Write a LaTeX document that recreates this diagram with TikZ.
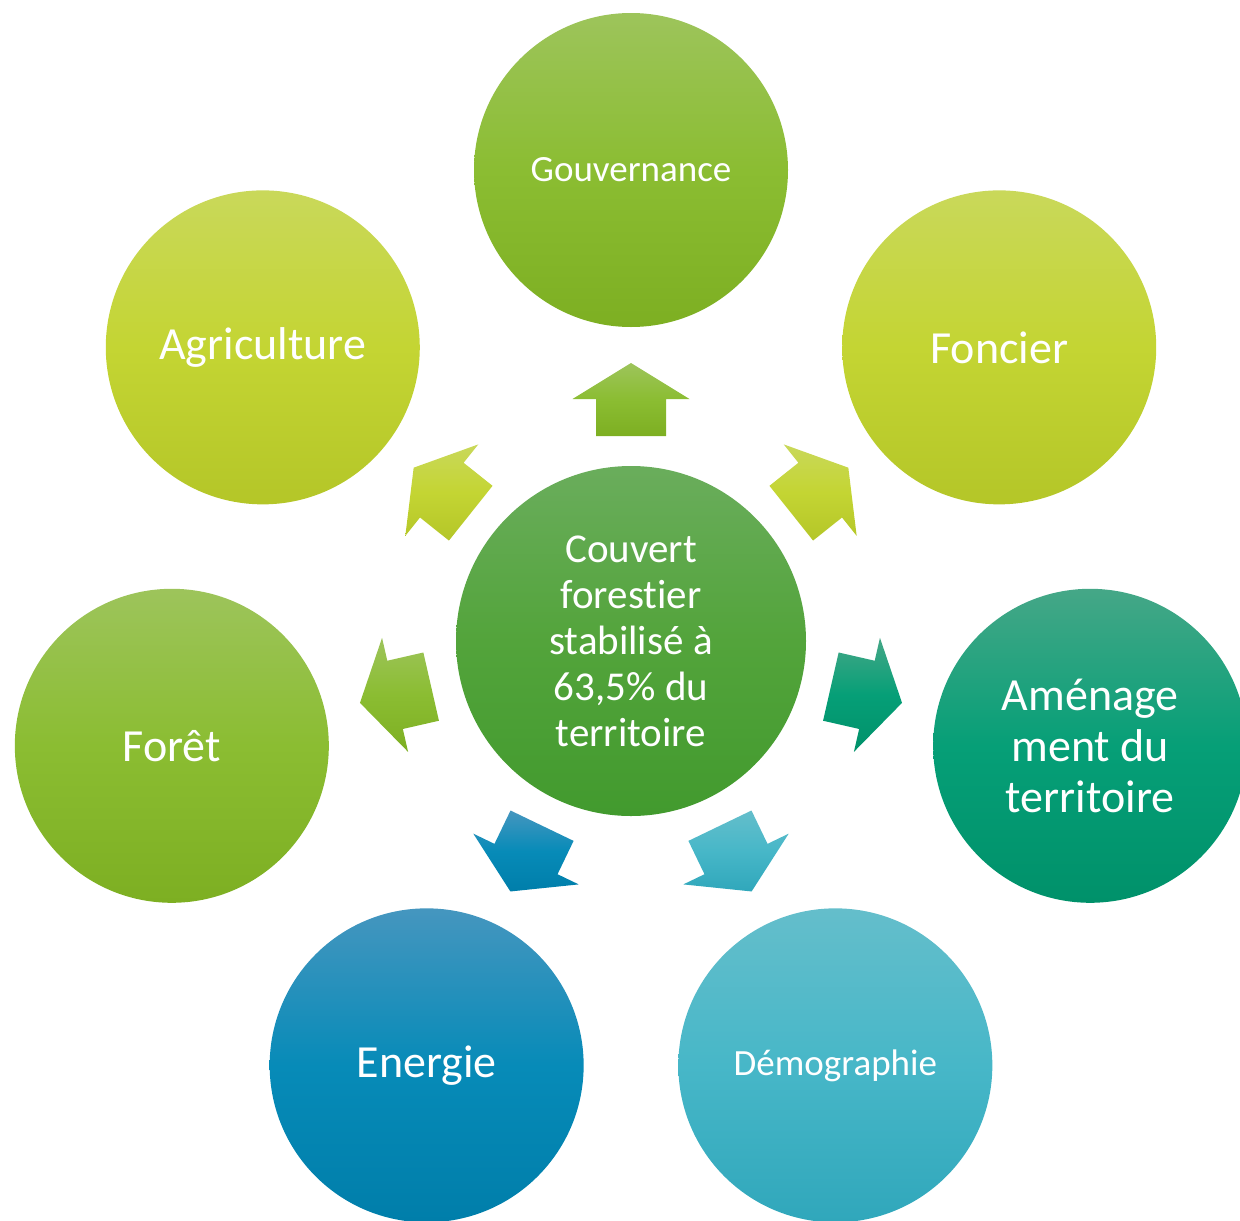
\documentclass[tikz,border=0pt]{standalone}
\usepackage{fontspec}
\setmainfont{Carlito}[Ligatures=NoCommon]
\usetikzlibrary{calc}
\definecolor{gTop}{HTML}{9DC45B}
\definecolor{gMid}{HTML}{8BBD32}
\definecolor{gBot}{HTML}{7DAF22}
\definecolor{yTop}{HTML}{C9D85A}
\definecolor{yMid}{HTML}{C4D533}
\definecolor{yBot}{HTML}{B4C628}
\definecolor{tTop}{HTML}{45A787}
\definecolor{tMid}{HTML}{069F77}
\definecolor{tBot}{HTML}{00916A}
\definecolor{lTop}{HTML}{64BECB}
\definecolor{lMid}{HTML}{47B7C8}
\definecolor{lBot}{HTML}{30A7BB}
\definecolor{bTop}{HTML}{4596BF}
\definecolor{bMid}{HTML}{078BB8}
\definecolor{bBot}{HTML}{007EAA}
\definecolor{cTop}{HTML}{6AAD5C}
\definecolor{cMid}{HTML}{53A43B}
\definecolor{cBot}{HTML}{429A2E}
\newcommand\outarrow[4]{%
  \path[top color=#2,bottom color=#4,middle color=#3]
    ($(o)+(#1:205)+(#1+90:35)$) -- ($(o)+(#1:242)+(#1+90:35)$) --
    ($(o)+(#1:242)+(#1+90:58.5)$) -- ($(o)+(#1:278)$) --
    ($(o)+(#1:242)+(#1-90:58.5)$) -- ($(o)+(#1:242)+(#1-90:35)$) --
    ($(o)+(#1:205)+(#1-90:35)$) -- cycle;}
\begin{document}
\begin{tikzpicture}[x=1pt,y=-1pt,
  bub/.style={circle,inner sep=0pt,minimum size=314pt,text=white,align=center},
  big/.style={font=\fontsize{46}{51}\selectfont},
  small/.style={font=\fontsize{37}{44}\selectfont},
  green/.style={top color=gTop,bottom color=gBot,middle color=gMid},
  yellow/.style={top color=yTop,bottom color=yBot,middle color=yMid},
  teal/.style={top color=tTop,bottom color=tBot,middle color=tMid},
  lblue/.style={top color=lTop,bottom color=lBot,middle color=lMid},
  dblue/.style={top color=bTop,bottom color=bBot,middle color=bMid}]
\useasboundingbox (0,0) rectangle (1240,1221);
\clip (0,0) rectangle (1240,1221);
\coordinate (o) at (631,641);
\node[bub,minimum size=350pt,top color=cTop,bottom color=cBot,middle color=cMid,font=\fontsize{41}{46}\selectfont] (c) at (o) {Couvert\\forestier\\stabilisé à\\63,5\% du\\territoire};
\node[bub,green,small] (gouv) at ($(o)+(-90:471)$) {Gouvernance};
\node[bub,yellow,big] (fonc) at ($(o)+(-38.571:471)$) {Foncier};
\node[bub,teal,big] (amen) at ($(o)+(12.857:471)$) {Aménage\\ment du\\territoire};
\node[bub,lblue,small] (demo) at ($(o)+(64.286:471)$) {Démographie};
\node[bub,dblue,big] (ener) at ($(o)+(115.714:471)$) {Energie};
\node[bub,green,big] (fore) at ($(o)+(167.143:471)$) {Forêt};
\node[bub,yellow,big] (agri) at ($(o)+(218.571:471)$) {Agriculture};
\outarrow{-90}{gTop}{gMid}{gBot}
\outarrow{-38.571}{yTop}{yMid}{yBot}
\outarrow{12.857}{tTop}{tMid}{tBot}
\outarrow{64.286}{lTop}{lMid}{lBot}
\outarrow{115.714}{bTop}{bMid}{bBot}
\outarrow{167.143}{gTop}{gMid}{gBot}
\outarrow{218.571}{yTop}{yMid}{yBot}
\end{tikzpicture}
\end{document}
